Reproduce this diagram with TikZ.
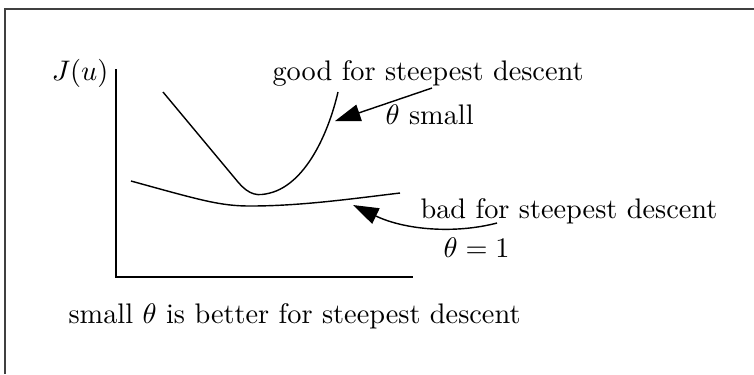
\documentclass[tikz,border=0pt]{standalone}
\usepackage{amsmath}
\usetikzlibrary{arrows.meta,positioning}
\begin{document}
\begin{tikzpicture}[x=0.3534pt, y=-0.3534pt]

	\tikzstyle{costline} = [line width=0.5pt, draw=black]
	\tikzstyle{axisline} = [line width=0.6pt, draw=black]
	\tikzstyle{frame} = [line width=0.9pt, draw=black!75]
	\tikzstyle{pointer} = [-{Triangle[length=9pt, width=6pt]}, line width=0.5pt, draw=black]
	\tikzstyle{txt} = [inner sep=0pt, anchor=base west]

	\useasboundingbox (0,0) rectangle (754,374);
	\draw[frame] (5,374) -- (5,9) -- (754,9);

	% axes
	\coordinate (ytop) at (116,69);
	\coordinate (origin) at (116,277);
	\coordinate (xend) at (413,277);
	\draw[axisline] (ytop) -- (origin) -- (xend);
	\node[txt, anchor=base east] (ju) at (109,80) {$J(u)$};

	% cost functions
	\draw[costline] (163,92) -- (238,182) .. controls (250,196) and (258,196) .. (270,193)
		.. controls (305,184) and (328,135) .. (338,92);
	\draw[costline] (131,181) .. controls (200,200) and (220,206) .. (250,206)
		.. controls (300,206) and (350,199) .. (400,193);

	\node[txt] (good) at (272,80) {good for steepest descent};
	\node[txt] (small) at (385,124) {$\theta$ small};
	\node[txt] (bad) at (420,218) {bad for steepest descent};
	\node[txt] (one) at (443,257) {$\theta = 1$};
	\node[txt] (note) at (68,323) {small $\theta$ is better for steepest descent};

	\coordinate (goodtail) at (432,88);
	\coordinate (goodtip) at (335,121);
	\coordinate (badtail) at (497,223);
	\coordinate (badtip) at (353,205);
	\draw[pointer] (goodtail) -- (goodtip);
	\draw[pointer] (badtail) .. controls (455,234) and (405,230) .. (badtip);

\end{tikzpicture}
\end{document}
